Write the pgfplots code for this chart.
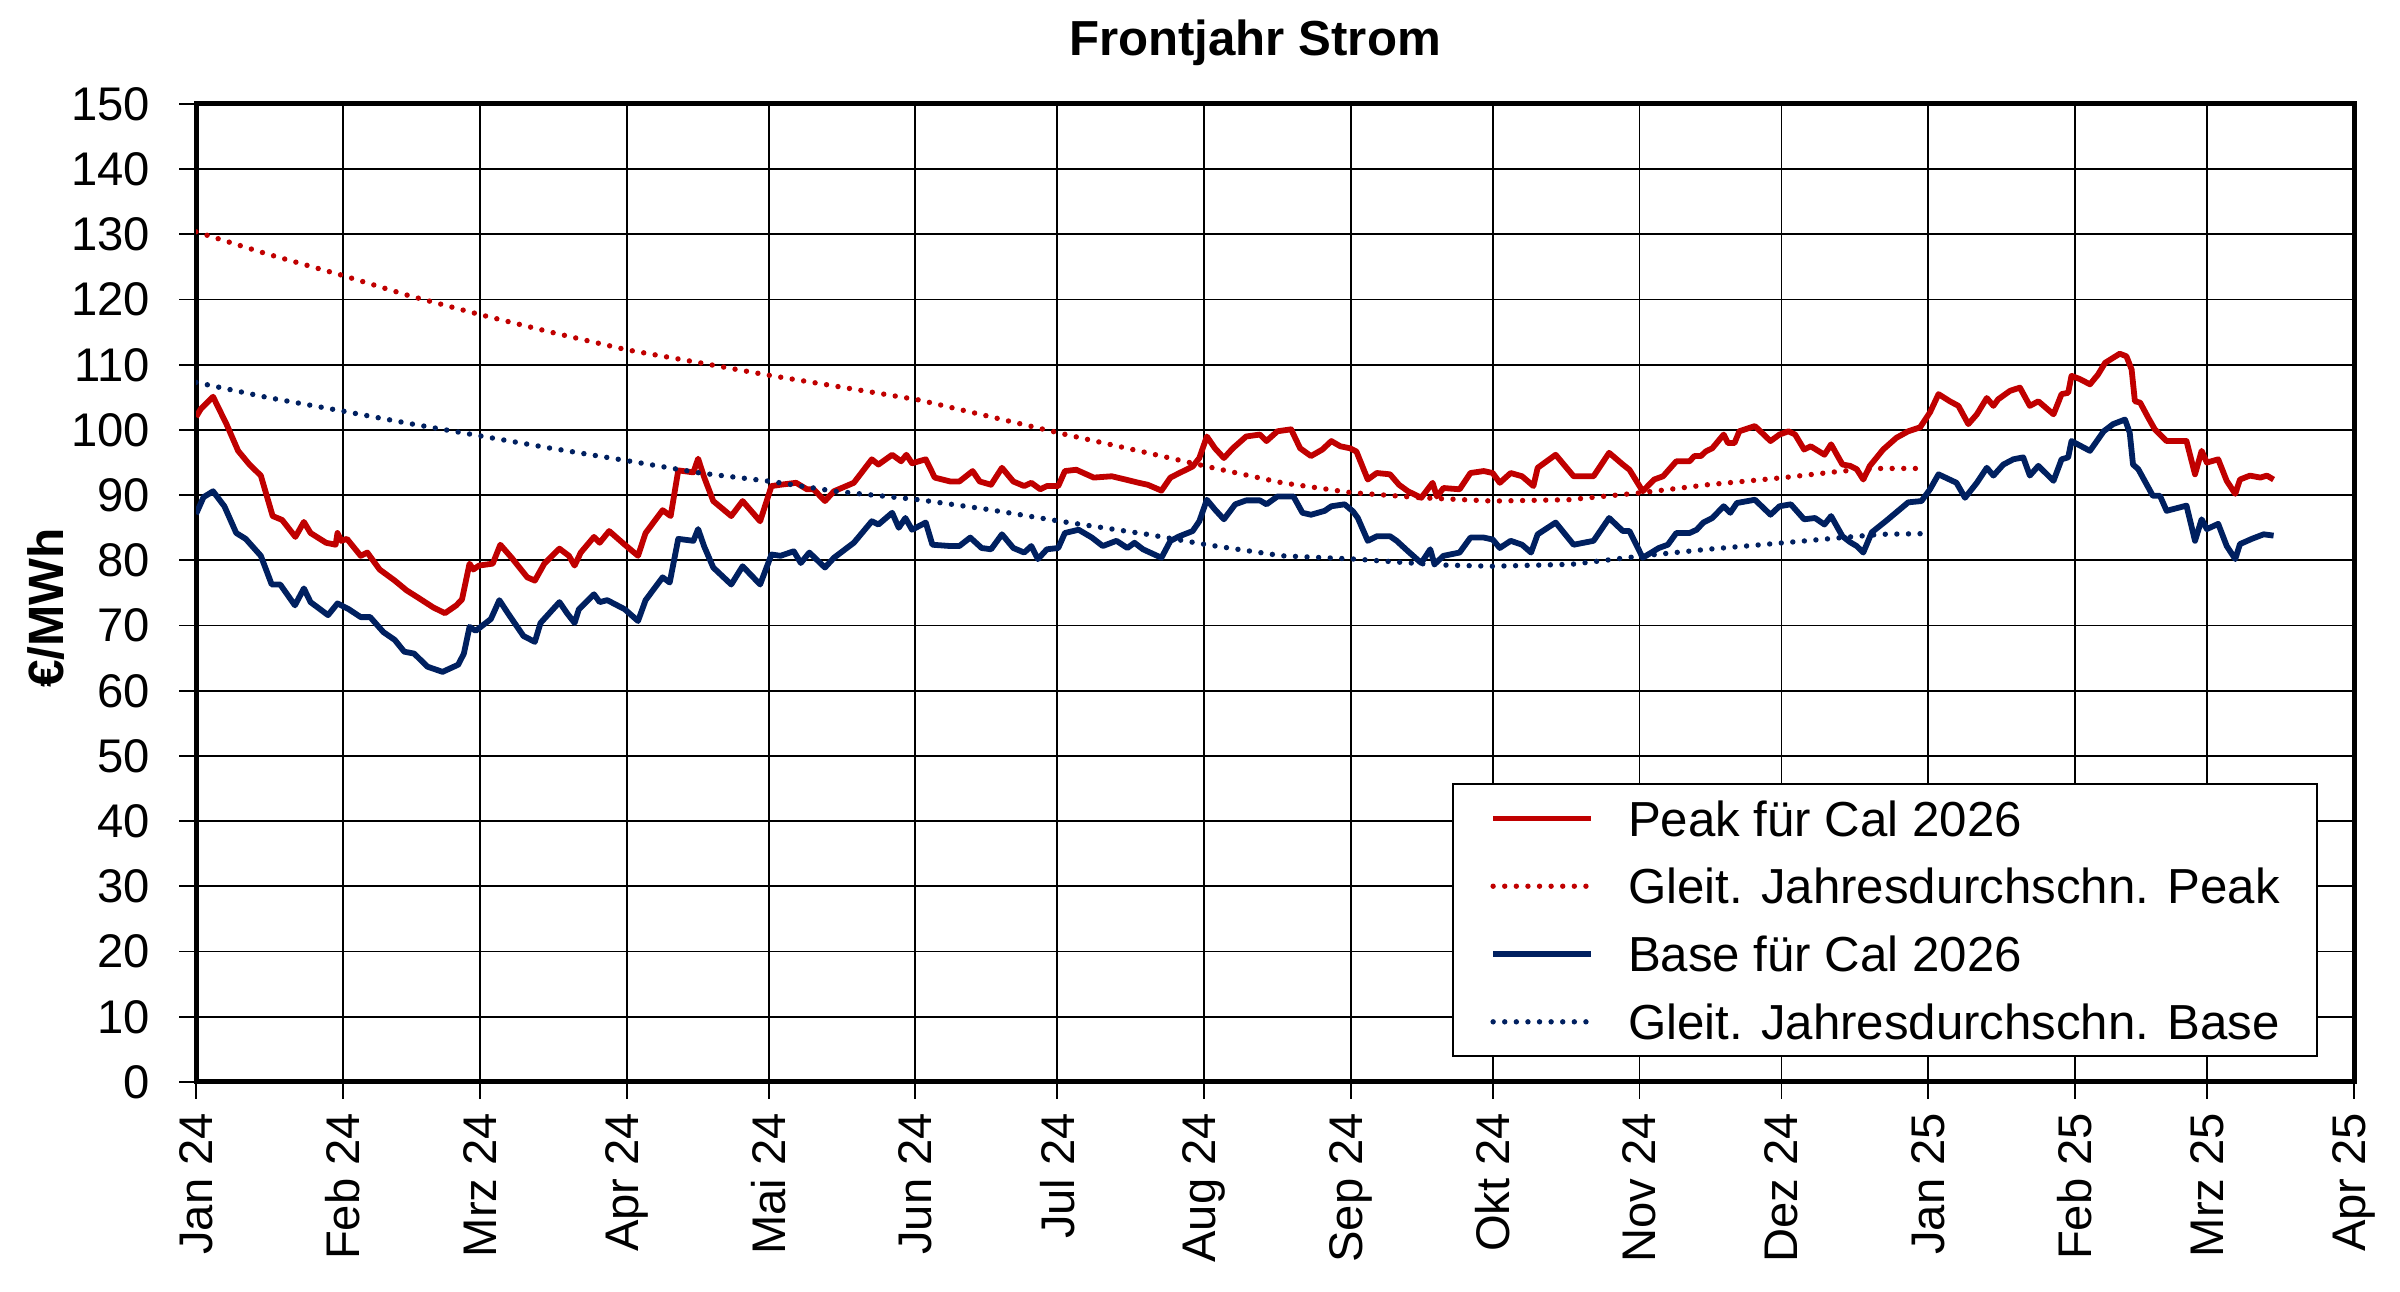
\documentclass[border=0pt]{standalone}
\usepackage{pgfplots}
\pgfplotsset{compat=1.18}
\usepackage{pgfplotstable}
\usepackage{fontspec}
\setmainfont{Liberation Sans}
\definecolor{peakred}{RGB}{192,0,0}
\definecolor{basenavy}{RGB}{0,32,96}

\pgfplotstableread{
x y
0 102.0
1.0 103.2
3.6 105.1
6.5 100.8
8.9 96.8
11.3 94.7
13.7 93.0
16.2 86.8
18.2 86.2
21.0 83.6
22.8 85.9
24.2 84.2
27.5 82.7
29.5 82.4
29.9 84.2
30.7 83.0
31.9 83.3
34.8 80.7
36.2 81.2
38.8 78.6
42.0 76.9
44.5 75.4
46.9 74.3
50.1 72.8
52.6 71.9
55.0 73.1
56.2 74.0
57.8 79.5
58.6 78.6
59.8 79.2
62.7 79.5
64.3 82.4
66.7 80.4
70.0 77.4
71.6 76.9
73.6 79.5
76.8 81.8
78.8 80.7
80.0 79.2
81.3 81.2
84.1 83.6
85.3 82.7
87.3 84.5
90.6 82.4
93.4 80.7
95.0 84.2
98.6 87.7
100.3 86.8
101.9 93.8
105.1 93.5
106.1 95.6
107.4 92.7
109.3 89.1
113.1 86.8
115.5 89.1
119.2 86.0
121.6 91.4
123.5 91.6
126.8 91.9
129.1 90.9
130.5 90.9
132.9 89.1
134.8 90.6
139.0 91.9
142.8 95.5
144.2 94.7
147.1 96.2
149.0 95.2
150.1 96.2
151.3 94.9
154.2 95.5
156.1 92.7
159.4 92.1
161.3 92.1
164.1 93.7
165.6 92.1
168.0 91.6
170.3 94.2
172.7 92.1
175.0 91.4
176.5 91.9
178.4 90.9
179.8 91.4
182.2 91.4
183.6 93.7
186.0 93.9
189.7 92.7
193.5 92.9
196.4 92.4
199.2 91.9
201.1 91.6
204.0 90.7
205.9 92.7
207.8 93.4
210.6 94.4
212.0 95.7
213.6 99.0
215.3 97.2
217.2 95.7
219.1 97.2
221.9 99.0
224.8 99.3
226.2 98.3
228.5 99.8
231.4 100.1
233.3 97.2
235.6 96.0
238.0 97.0
239.9 98.3
241.8 97.5
243.8 97.2
245.2 96.7
247.6 92.4
249.5 93.4
252.3 93.2
254.2 91.6
256.1 90.6
258.9 89.6
261.3 91.9
262.2 89.8
263.6 91.1
267.0 90.9
269.3 93.4
272.1 93.7
274.0 93.4
275.5 91.9
277.8 93.4
280.2 92.9
282.6 91.4
283.5 94.2
287.3 96.2
291.1 92.9
295.3 92.9
298.6 96.5
301.5 94.7
302.9 93.9
305.7 90.6
308.1 92.4
310.0 92.9
312.8 95.2
315.6 95.2
316.6 96.0
318.0 96.0
319.0 96.7
320.4 97.2
322.8 99.3
323.7 98.0
325.1 98.0
326.1 99.8
329.4 100.6
332.7 98.3
334.6 99.3
336.5 99.8
337.9 99.3
339.8 97.0
341.2 97.5
344.1 96.2
345.5 97.8
347.9 94.7
349.5 94.5
350.9 94.0
352.3 92.4
353.7 94.5
356.5 97.0
359.3 98.8
361.8 99.8
364.3 100.4
366.4 102.7
368.2 105.5
370.6 104.4
372.4 103.7
374.5 100.9
376.3 102.4
378.4 104.9
379.8 103.7
380.8 104.7
383.3 106.0
385.4 106.5
387.5 103.7
389.3 104.4
392.5 102.4
394.2 105.5
395.6 105.7
396.3 108.3
398.1 107.8
400.2 107.0
401.9 108.5
403.4 110.3
406.5 111.7
407.9 111.3
409.0 109.3
409.7 104.4
410.8 104.2
412.5 101.9
413.9 100.1
416.4 98.3
420.6 98.3
422.4 93.2
423.8 96.8
424.9 95.0
427.3 95.5
429.1 92.2
430.9 90.2
431.9 92.4
434.0 93.0
436.2 92.7
437.6 93.0
439.0 92.4
}\peak

\pgfplotstableread{
x y
0 87.1
1.6 89.7
3.6 90.6
6.0 88.3
8.5 84.2
10.5 83.3
13.7 80.7
16.0 76.3
17.8 76.3
20.9 73.1
22.8 75.7
24.2 73.6
27.9 71.6
29.9 73.4
32.3 72.5
34.8 71.3
36.8 71.3
39.6 69.0
42.0 67.8
44.0 66.0
46.1 65.7
48.9 63.7
52.1 62.9
55.4 64.0
56.6 65.7
57.8 69.8
59.1 69.2
62.3 71.0
64.1 73.9
65.9 71.9
69.2 68.4
71.6 67.5
72.8 70.4
76.8 73.6
78.4 71.9
80.0 70.4
80.9 72.5
84.1 74.8
85.3 73.6
86.9 73.9
90.6 72.5
93.4 70.7
95.0 73.9
98.6 77.4
100.1 76.6
101.9 83.3
105.1 83.0
106.1 84.8
107.4 82.1
109.3 78.9
113.1 76.3
115.5 79.1
119.2 76.3
121.6 80.9
123.5 80.7
126.3 81.4
127.8 79.6
129.6 81.2
132.9 78.9
134.8 80.4
139.0 82.7
142.8 86.0
144.2 85.5
147.1 87.3
148.5 85.0
149.9 86.5
151.3 84.7
154.2 85.8
155.6 82.4
159.4 82.2
161.3 82.2
163.6 83.5
166.0 81.9
168.0 81.7
170.3 84.0
172.7 81.9
175.0 81.2
176.5 82.2
177.9 80.2
179.8 81.7
182.2 81.9
183.6 84.2
186.5 84.7
189.3 83.5
191.6 82.2
194.5 83.0
196.8 81.9
198.3 82.7
200.1 81.7
204.0 80.4
205.9 83.0
207.8 83.7
210.6 84.5
212.0 86.0
213.6 89.3
215.3 87.8
217.2 86.3
219.6 88.6
221.9 89.2
224.8 89.2
226.2 88.6
228.5 89.8
231.9 89.8
233.8 87.3
235.6 87.0
238.5 87.6
239.9 88.3
242.7 88.6
244.5 87.5
245.5 86.5
247.6 83.0
249.5 83.7
252.3 83.7
253.7 83.0
256.1 81.4
258.9 79.6
260.8 81.7
261.7 79.4
263.6 80.7
267.0 81.2
269.3 83.5
272.1 83.5
274.0 83.2
275.5 81.9
277.8 83.0
280.2 82.4
282.1 81.2
283.5 84.0
287.3 85.8
291.1 82.4
295.3 83.0
298.6 86.5
301.5 84.5
302.9 84.5
305.7 80.4
309.1 81.9
311.0 82.4
312.8 84.2
315.6 84.2
317.1 84.7
318.5 85.8
320.4 86.5
322.8 88.3
324.2 87.3
325.6 88.8
329.4 89.3
332.7 87.0
334.6 88.3
337.0 88.6
339.8 86.3
342.1 86.5
344.1 85.5
345.5 86.8
347.9 83.7
349.5 82.8
350.9 82.2
352.3 81.2
354.1 84.3
357.2 86.1
361.8 88.9
364.6 89.1
366.4 90.9
368.2 93.2
372.0 91.9
373.8 89.6
376.3 91.9
378.4 94.2
379.8 93.0
381.9 94.7
384.0 95.5
386.1 95.8
387.5 93.0
389.3 94.5
392.5 92.2
394.2 95.5
395.6 95.8
396.3 98.3
400.2 96.8
403.1 99.8
405.1 100.9
407.6 101.6
408.6 99.6
409.3 94.7
410.4 94.0
413.5 89.9
415.0 89.9
416.4 87.6
420.6 88.4
422.4 83.0
423.8 86.3
424.9 84.8
427.3 85.6
429.1 82.2
430.9 80.2
431.9 82.5
434.4 83.3
436.9 84.0
439.0 83.8
}\base

\pgfplotstableread{
x y
0 130.4
15 127.0
31 123.7
45 120.6
60 117.7
75 115.0
91 112.3
106.5 110.3
121 108.4
137 106.5
152.8 104.6
167.5 102.1
182.6 99.5
201 96.5
213.6 94.4
229.5 91.9
244 90.4
259 89.6
274 89.1
290 89.3
305.7 90.4
319.4 91.6
335.5 92.7
347.9 93.7
356 94.1
365 94.1
}\avgpeak

\pgfplotstableread{
x y
0 107.3
15 105.0
31 102.9
45 101.0
60 99.1
75 97.2
91 95.3
106.5 93.4
121.6 92.1
135 90.6
152.8 89.3
167.5 87.8
182.6 86.0
201 84.0
213.6 82.4
229.5 80.7
244.8 80.2
262.7 79.3
274 79.1
290.7 79.4
305.7 80.7
319.4 81.7
335.5 82.7
347.9 83.5
356 84.0
365 84.1
}\avgbase

\begin{document}
\begin{tikzpicture}
\useasboundingbox (0,0) rectangle (600pt,323pt);
\begin{axis}[
  at={(49pt,52.5pt)}, anchor=south west,
  scale only axis, width=539.5pt, height=244.5pt,
  xmin=0, xmax=456, ymin=0, ymax=150,
  xtick={0,31,60,91,121,152,182,213,244,274,305,335,366,397,425,456},
  xticklabels={Jan 24,Feb 24,Mrz 24,Apr 24,Mai 24,Jun 24,Jul 24,Aug 24,Sep 24,Okt 24,Nov 24,Dez 24,Jan 25,Feb 25,Mrz 25,Apr 25},
  ytick={0,10,...,150},
  grid=major,
  major grid style={black, line width=0.45pt},
  axis line style={line width=1.25pt},
  tick align=outside, major tick length=4.2pt,
  tick style={black, line width=0.45pt},
  xtick pos=bottom, ytick pos=left,
  /pgf/number format/assume math mode=true,
  ticklabel style={font=\fontsize{11.8}{14}\selectfont},
  xticklabel style={rotate=90, anchor=east},
  yticklabel style={xshift=-3.8pt},
  legend cell align=left,
  legend image code/.code={\draw[#1] (0pt,0pt) -- (24.4pt,0pt);},
  legend style={at={(axis description cs:0.9833,0.3057)}, anchor=north east,
    draw=black, line width=0.5pt, fill=white,
    inner xsep=9.3pt, inner ysep=4.2pt, row sep=8.15pt, column sep=8.6pt,
    nodes={inner sep=0pt, text height=8.8pt, text depth=0pt, font=\fontsize{12.3}{14}\selectfont}},
]
\addplot[peakred, line width=1.45pt, line join=round] table {\peak};
\addlegendentry{Peak für Cal 2026}
\addplot[peakred, line width=1.35pt, line cap=round, dash pattern=on 0pt off 2.9pt] table {\avgpeak};
\addlegendentry{Gleit. Jahresdurchschn. Peak}
\addplot[basenavy, line width=1.45pt, line join=round] table {\base};
\addlegendentry{Base für Cal 2026}
\addplot[basenavy, line width=1.35pt, line cap=round, dash pattern=on 0pt off 2.9pt] table {\avgbase};
\addlegendentry{Gleit. Jahresdurchschn. Base}
\end{axis}
\node[font=\bfseries\fontsize{12.3}{14}\selectfont, anchor=center] at (313.75pt,312.3pt) {Frontjahr Strom};
\node[font=\bfseries\fontsize{12.4}{14}\selectfont, anchor=center, rotate=90] at (11.5pt,171pt) {€/MWh};
\end{tikzpicture}
\end{document}
